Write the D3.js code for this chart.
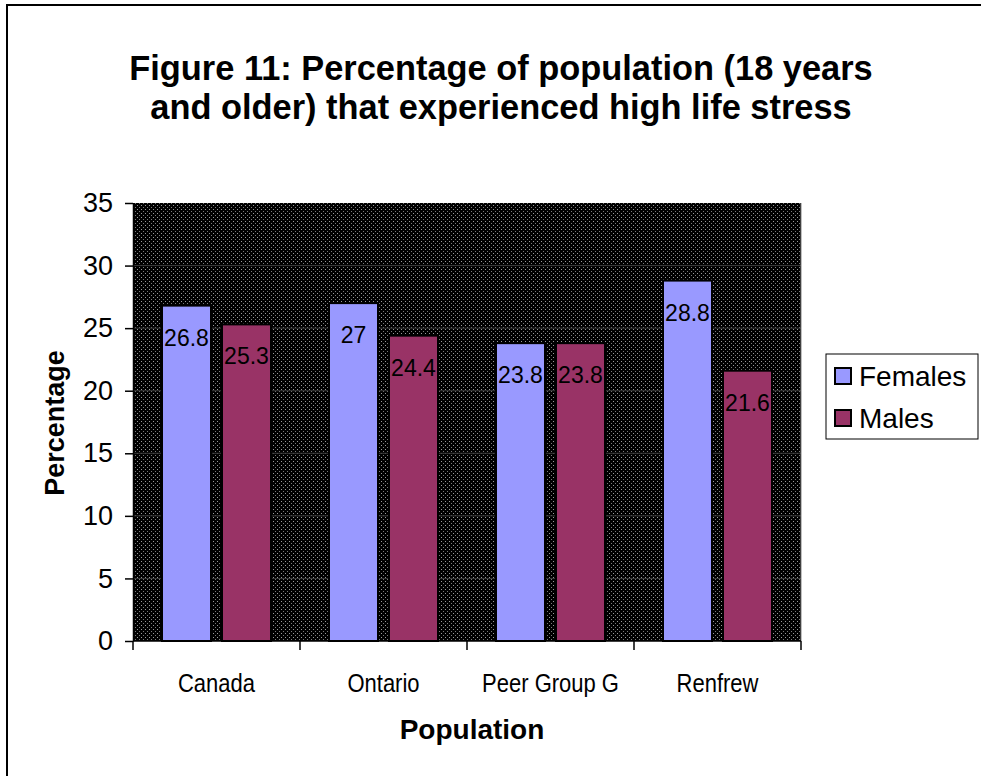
<!DOCTYPE html>
<html>
<head>
<meta charset="utf-8">
<script src="https://cdn.jsdelivr.net/npm/d3@7"></script>
<style>
  html, body { margin: 0; padding: 0; background: #fff; overflow: hidden; }
  svg { display: block; font-family: "Liberation Sans", Arial, sans-serif; }
</style>
</head>
<body>
<svg id="chart" width="981" height="776"></svg>
<script>
// Chart data
const categories = ["Canada", "Ontario", "Peer Group G", "Renfrew"];
const seriesNames = ["Females", "Males"];
const females = [26.8, 27, 23.8, 28.8];
const males = [25.3, 24.4, 23.8, 21.6];
const yTicks = [0, 5, 10, 15, 20, 25, 30, 35];
const titleLines = ["Figure 11: Percentage of population (18 years", "and older) that experienced high life stress"];
const xTitle = "Population";
const yTitle = "Percentage";
const colors = { Females: "#9999FF", Males: "#993366" };

const svg = d3.select("#chart");
const plot = { left: 133, right: 801, top: 203, bottom: 641 };
const plotW = plot.right - plot.left;
const plotH = plot.bottom - plot.top;

// Outer frame: left and top edges of the chart border
svg.append("path")
  .attr("d", "M7,780 L7,5 L985,5")
  .attr("fill", "none").attr("stroke", "#000").attr("stroke-width", 2);

// Dotted dark background pattern for the plot area
const defs = svg.append("defs");
const pat = defs.append("pattern")
  .attr("id", "dots").attr("patternUnits", "userSpaceOnUse")
  .attr("width", 4).attr("height", 4);
pat.append("rect").attr("x", 0).attr("y", 0).attr("width", 4).attr("height", 4).attr("fill", "#000");
pat.append("rect").attr("x", 1).attr("y", 1).attr("width", 1).attr("height", 1).attr("fill", "#9a9a9a");
pat.append("rect").attr("x", 3).attr("y", 3).attr("width", 1).attr("height", 1).attr("fill", "#7a7a7a");

defs.append("clipPath").attr("id", "plotClip")
  .append("rect").attr("x", plot.left).attr("y", plot.top).attr("width", plotW).attr("height", plotH);

// Scales
const x = d3.scaleBand().domain(categories).range([plot.left, plot.right]).padding(0);
const x1 = d3.scaleBand().domain(seriesNames).range([29, x.bandwidth() - 29]).paddingInner(11 / 60).paddingOuter(0);
const y = d3.scaleLinear().domain([0, 35]).range([plot.bottom, plot.top]);

// Plot background
const bg = svg.append("g").attr("clip-path", "url(#plotClip)");
bg.append("rect")
  .attr("x", plot.left).attr("y", plot.top)
  .attr("width", plotW).attr("height", plotH)
  .attr("fill", "url(#dots)");

// Gridlines
bg.selectAll("line").data(yTicks.filter(d => d > 0 && d < 35)).join("line")
  .attr("x1", plot.left).attr("x2", plot.right)
  .attr("y1", d => y(d)).attr("y2", d => y(d))
  .attr("stroke", "#3a3a3a").attr("stroke-width", 1);

// Right edge of the plot area
svg.append("line")
  .attr("x1", plot.right).attr("x2", plot.right)
  .attr("y1", plot.top).attr("y2", plot.bottom)
  .attr("stroke", "#808080").attr("stroke-width", 1);

// Title
svg.append("text")
  .attr("x", 501).attr("y", 80)
  .attr("text-anchor", "middle")
  .attr("font-size", 34.4).attr("font-weight", "bold")
  .selectAll("tspan").data(titleLines).join("tspan")
  .attr("x", 501).attr("dy", (d, i) => i === 0 ? 0 : 39)
  .text(d => d);

// Y axis
const yAxis = d3.axisLeft(y).tickValues(yTicks).tickSize(8).tickSizeOuter(0).tickPadding(12);
const gy = svg.append("g").attr("transform", `translate(${plot.left},0)`).call(yAxis);
gy.select(".domain").attr("stroke", "#000").attr("stroke-width", 1.5);
gy.selectAll(".tick line").attr("stroke", "#000").attr("stroke-width", 1.5);
gy.selectAll(".tick text").attr("font-size", 27).attr("fill", "#000")
  .attr("font-family", "'Liberation Sans', Arial, sans-serif");

// X axis (ticks on category boundaries)
const boundaries = categories.map(c => x(c)).concat([plot.right]);
const gx = svg.append("g");
gx.append("line")
  .attr("x1", plot.left).attr("x2", plot.right)
  .attr("y1", plot.bottom).attr("y2", plot.bottom)
  .attr("stroke", "#000").attr("stroke-width", 1.5);
gx.selectAll("line.tk").data(boundaries).join("line").attr("class", "tk")
  .attr("x1", d => d).attr("x2", d => d)
  .attr("y1", plot.bottom).attr("y2", plot.bottom + 9)
  .attr("stroke", "#000").attr("stroke-width", 1.5);
gx.selectAll("text").data(categories).join("text")
  .attr("transform", d => `translate(${x(d) + x.bandwidth() / 2},692) scale(0.88,1)`)
  .attr("text-anchor", "middle")
  .attr("font-size", 25)
  .text(d => d);

// Bars
const rows = categories.map((c, i) => ({ cat: c, values: [
  { key: "Females", value: females[i] },
  { key: "Males", value: males[i] }
] }));

const groups = svg.append("g").selectAll("g").data(rows).join("g")
  .attr("transform", d => `translate(${x(d.cat)},0)`);

groups.selectAll("rect").data(d => d.values).join("rect")
  .attr("x", d => x1(d.key))
  .attr("y", d => y(d.value))
  .attr("width", x1.bandwidth())
  .attr("height", d => y(0) - y(d.value))
  .attr("fill", d => colors[d.key])
  .attr("stroke", "#000").attr("stroke-width", 2);

groups.selectAll("text").data(d => d.values).join("text")
  .attr("x", d => x1(d.key) + x1.bandwidth() / 2)
  .attr("y", d => y(d.value) + 40)
  .attr("text-anchor", "middle")
  .attr("font-size", 23)
  .attr("fill", "#000")
  .text(d => d.value);

// Axis titles
svg.append("text")
  .attr("x", 472).attr("y", 739)
  .attr("text-anchor", "middle")
  .attr("font-size", 28).attr("font-weight", "bold")
  .text(xTitle);

svg.append("text")
  .attr("transform", "translate(64,423) rotate(-90)")
  .attr("text-anchor", "middle")
  .attr("font-size", 27).attr("font-weight", "bold")
  .text(yTitle);

// Legend
const legend = svg.append("g");
legend.append("rect")
  .attr("x", 826).attr("y", 354).attr("width", 152).attr("height", 85)
  .attr("fill", "#fff").attr("stroke", "#000").attr("stroke-width", 1);
const items = legend.selectAll("g").data(seriesNames).join("g")
  .attr("transform", (d, i) => `translate(0,${376 + i * 42})`);
items.append("rect")
  .attr("x", 835).attr("y", -8).attr("width", 16).attr("height", 16)
  .attr("fill", d => colors[d]).attr("stroke", "#000").attr("stroke-width", 2);
items.append("text")
  .attr("x", 859).attr("y", 10)
  .attr("font-size", 28)
  .text(d => d);
</script>
</body>
</html>
